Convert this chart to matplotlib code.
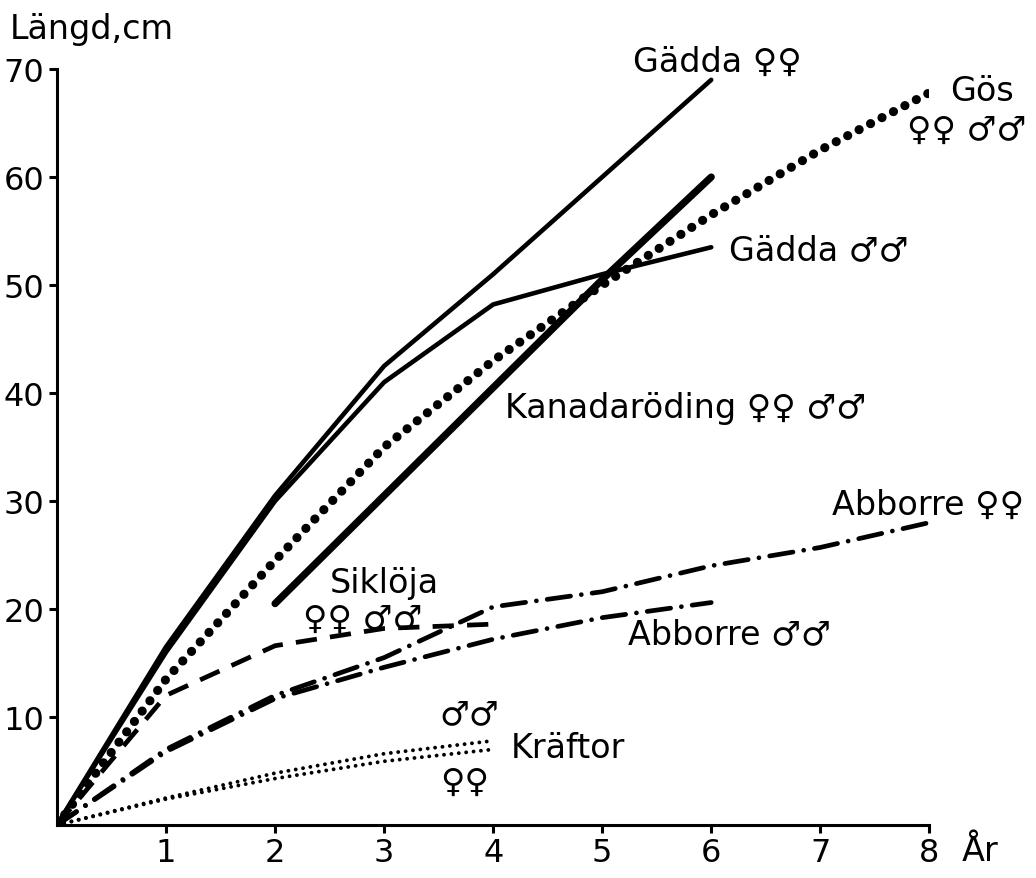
import matplotlib.pyplot as plt

plt.rcParams['font.family'] = ['DejaVu Sans']

# tillväxt (längd i cm) per år
ar = [0, 1, 2, 3, 4, 5, 6, 7, 8]
ar_till_6 = [0, 1, 2, 3, 4, 5, 6]
ar_till_4 = [0, 1, 2, 3, 4]
ar_kanada = [2, 3, 4, 5, 6]

gadda_honor = [0, 16.5, 30.5, 42.5, 51, 60, 69]
gadda_hanar = [0, 16, 30, 41, 48.2, 51, 53.5]
gos = [0, 13.5, 24.5, 35, 43, 50, 56.5, 62.5, 67.8]
kanadaroding = [20.5, 30.5, 40.5, 50.5, 60]
sikloja = [0, 12, 16.6, 18.2, 18.6]
abborre_honor = [0, 7, 12, 15.5, 20.2, 21.6, 24, 25.7, 28]
abborre_hanar = [0, 6.8, 11.7, 14.6, 17.2, 19.2, 20.6]
kraftor_hanar = [0, 2.5, 4.8, 6.6, 7.8]
kraftor_honor = [0, 2.4, 4.3, 5.9, 7.0]

xticks = [1, 2, 3, 4, 5, 6, 7, 8]
yticks = [10, 20, 30, 40, 50, 60, 70]

fig = plt.figure(figsize=(10.36, 8.79), dpi=100)
ax = fig.add_axes([0.055, 0.0603, 0.842, 0.860])

streck_punkt = (0, (5, 2.3, 0.01, 2.3))
ax.plot(ar_till_6, gadda_honor, color='black', lw=3.3, solid_capstyle='round')
ax.plot(ar_till_6, gadda_hanar, color='black', lw=3.3, solid_capstyle='round')
ax.plot(ar_kanada, kanadaroding, color='black', lw=5.2, solid_capstyle='round')
ax.plot(ar, gos, color='black', lw=6.6, linestyle=(0, (0.01, 1.4)),
        dash_capstyle='round')
ax.plot(ar_till_4, sikloja, color='black', lw=3.4, linestyle=(0, (4.5, 2.8)))
ax.plot(ar, abborre_honor, color='black', lw=3.4,
        linestyle=streck_punkt, dash_capstyle='round')
ax.plot(ar_till_6, abborre_hanar, color='black', lw=3.4,
        linestyle=streck_punkt, dash_capstyle='round')
ax.plot(ar_till_4, kraftor_hanar, color='black', lw=2.8,
        linestyle=(0, (0.01, 1.9)), dash_capstyle='round')
ax.plot(ar_till_4, kraftor_honor, color='black', lw=2.8,
        linestyle=(0, (0.01, 1.9)), dash_capstyle='round')

fs = 24
etiketter = [
    (5.28, 70.7, 'Gädda ♀♀'),
    (8.19, 68.0, 'Gös'),
    (7.80, 64.4, '♀♀ ♂♂'),
    (6.16, 53.3, 'Gädda ♂♂'),
    (4.11, 38.7, 'Kanadaröding ♀♀ ♂♂'),
    (7.11, 29.7, 'Abborre ♀♀'),
    (2.50, 22.5, 'Siklöja'),
    (2.26, 19.1, '♀♀ ♂♂'),
    (5.24, 17.7, 'Abborre ♂♂'),
    (3.51, 10.3, '♂♂'),
    (4.16, 7.2, 'Kräftor'),
    (3.51, 4.0, '♀♀'),
]
for x, y, t in etiketter:
    ax.text(x, y, t, fontsize=fs, ha='left', va='center', clip_on=False)

ax.set_xlim(0, 8)
ax.set_ylim(0, 70)
ax.set_xticks(xticks)
ax.set_yticks(yticks)
ax.tick_params(labelsize=23, length=6, width=2.2, direction='out', pad=3)
for s in ['top', 'right']:
    ax.spines[s].set_visible(False)
for s in ['left', 'bottom']:
    ax.spines[s].set_linewidth(2.2)

fig.text(10 / 1036, 1 - 30 / 879, 'Längd,cm', fontsize=fs, ha='left', va='center')
fig.text(962 / 1036, 1 - 852 / 879, 'År', fontsize=fs, ha='left', va='center')

fig.savefig('out.png', dpi=100)
